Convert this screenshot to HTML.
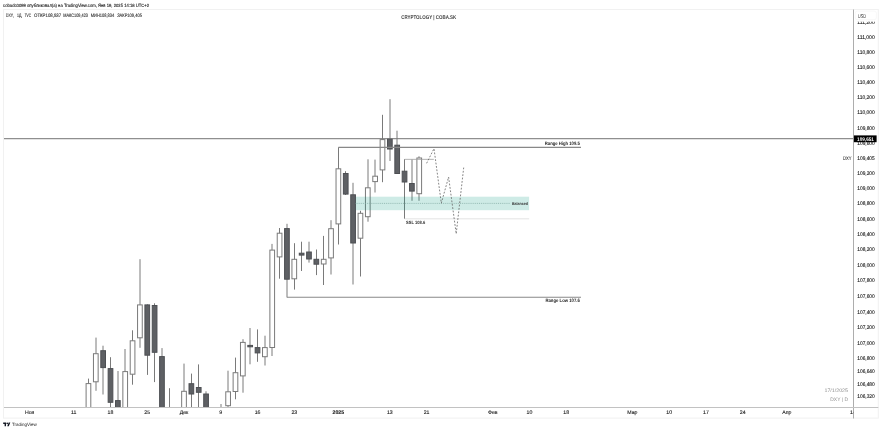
<!DOCTYPE html>
<html><head><meta charset="utf-8">
<style>
html,body{margin:0;padding:0;background:#fff;}
body{width:882px;height:431px;overflow:hidden;}
svg{display:block;text-rendering:geometricPrecision;font-family:"Liberation Sans",sans-serif;}
.pl{font-size:5.3px;fill:#1a1a1a;stroke:#1a1a1a;stroke-width:0.12px;}
.tl{font-size:5.2px;fill:#1a1a1a;stroke:#1a1a1a;stroke-width:0.12px;text-anchor:middle;}
.b{font-weight:bold;}
.hd1{fill:#222;stroke:#222;stroke-width:0.12px;}
.hd2{font-size:4.9px;fill:#333;stroke:#333;stroke-width:0.12px;}
text{filter:url(#gs);}
</style></head><body>
<svg width="882" height="431" viewBox="0 0 882 431">
<rect x="0" y="0" width="882" height="431" fill="#fff"/>
<!-- header -->
<text x="3.1" y="6.9" font-size="4.6" class="hd1" textLength="146" lengthAdjust="spacingAndGlyphs">cobadc0099 опубликовал(а) на TradingView.com, Янв 19, 2025 14:18 UTC+2</text>
<!-- outer frame -->
<rect x="3.5" y="9.5" width="874.8" height="408.6" fill="none" stroke="#f1f1f1" stroke-width="1"/>
<text x="6.1" y="16.6" class="hd2" textLength="7.5" lengthAdjust="spacingAndGlyphs">DXY,</text><text x="17" y="16.6" class="hd2" textLength="5.3" lengthAdjust="spacingAndGlyphs">1Д,</text><text x="24.7" y="16.6" class="hd2" textLength="6.3" lengthAdjust="spacingAndGlyphs">TVC</text><text x="34" y="16.6" class="hd2" textLength="27.2" lengthAdjust="spacingAndGlyphs">ОТКР108,937</text><text x="63.3" y="16.6" class="hd2" textLength="24.6" lengthAdjust="spacingAndGlyphs">МАКС109,423</text><text x="90.8" y="16.6" class="hd2" textLength="23.4" lengthAdjust="spacingAndGlyphs">МИН108,834</text><text x="117.2" y="16.6" class="hd2" textLength="24.7" lengthAdjust="spacingAndGlyphs">ЗАКР109,405</text>
<text x="401.3" y="19.0" font-size="5.4" font-weight="bold" fill="#444" textLength="55" lengthAdjust="spacingAndGlyphs">CRYPTOLOGY | COBA.SK</text>
<defs><filter id="gs" x="-0.2" y="-0.5" width="1.4" height="2"><feColorMatrix type="saturate" values="0"/></filter><clipPath id="cp"><rect x="4" y="10" width="849" height="397"/></clipPath>
<clipPath id="cpa"><rect x="854" y="21" width="24" height="386"/></clipPath></defs>
<g clip-path="url(#cp)">
<!-- 109.651 line -->
<line x1="4" y1="138.7" x2="853" y2="138.7" stroke="#8f8f8f" stroke-width="1.2"/>
<!-- green box -->
<line x1="88.50" y1="378.6" x2="88.50" y2="430" stroke="#7a7a7a" stroke-width="1"/>
<rect x="86.10" y="383.60" width="4.70" height="45.90" fill="#fff" stroke="#7a7a7a" stroke-width="1"/>
<line x1="96.00" y1="337.6" x2="96.00" y2="390.8" stroke="#7a7a7a" stroke-width="1"/>
<rect x="93.45" y="353.70" width="4.70" height="28.10" fill="#fff" stroke="#7a7a7a" stroke-width="1"/>
<line x1="103.00" y1="345.7" x2="103.00" y2="394.5" stroke="#7a7a7a" stroke-width="1"/>
<rect x="100.80" y="350.70" width="4.70" height="16.90" fill="#5e6064" stroke="#4d4f53" stroke-width="1"/>
<line x1="110.50" y1="357.2" x2="110.50" y2="430" stroke="#7a7a7a" stroke-width="1"/>
<rect x="108.15" y="368.60" width="4.70" height="33.70" fill="#5e6064" stroke="#4d4f53" stroke-width="1"/>
<line x1="118.00" y1="371" x2="118.00" y2="430" stroke="#7a7a7a" stroke-width="1"/>
<rect x="115.50" y="400.60" width="4.70" height="28.90" fill="#5e6064" stroke="#4d4f53" stroke-width="1"/>
<line x1="125.00" y1="349" x2="125.00" y2="430" stroke="#7a7a7a" stroke-width="1"/>
<rect x="122.86" y="371.60" width="4.70" height="57.90" fill="#fff" stroke="#7a7a7a" stroke-width="1"/>
<line x1="132.50" y1="330.3" x2="132.50" y2="384.7" stroke="#7a7a7a" stroke-width="1"/>
<rect x="130.21" y="340.80" width="4.70" height="33.40" fill="#fff" stroke="#7a7a7a" stroke-width="1"/>
<line x1="140.00" y1="259.2" x2="140.00" y2="347.8" stroke="#7a7a7a" stroke-width="1"/>
<rect x="137.56" y="304.90" width="4.70" height="32.90" fill="#fff" stroke="#7a7a7a" stroke-width="1"/>
<line x1="147.50" y1="304.4" x2="147.50" y2="374.9" stroke="#7a7a7a" stroke-width="1"/>
<rect x="144.91" y="304.90" width="4.70" height="50.30" fill="#5e6064" stroke="#4d4f53" stroke-width="1"/>
<line x1="154.50" y1="303.3" x2="154.50" y2="382.1" stroke="#7a7a7a" stroke-width="1"/>
<rect x="152.26" y="305.50" width="4.70" height="46.80" fill="#5e6064" stroke="#4d4f53" stroke-width="1"/>
<line x1="162.00" y1="348.1" x2="162.00" y2="430" stroke="#7a7a7a" stroke-width="1"/>
<rect x="159.61" y="356.60" width="4.70" height="72.90" fill="#5e6064" stroke="#4d4f53" stroke-width="1"/>
<line x1="169.50" y1="388.2" x2="169.50" y2="430" stroke="#7a7a7a" stroke-width="1"/>
<line x1="184.00" y1="363.6" x2="184.00" y2="430" stroke="#7a7a7a" stroke-width="1"/>
<rect x="181.66" y="391.30" width="4.70" height="38.20" fill="#fff" stroke="#7a7a7a" stroke-width="1"/>
<line x1="191.50" y1="373.6" x2="191.50" y2="430" stroke="#7a7a7a" stroke-width="1"/>
<rect x="189.01" y="383.70" width="4.70" height="10.30" fill="#5e6064" stroke="#4d4f53" stroke-width="1"/>
<line x1="198.50" y1="364.4" x2="198.50" y2="430" stroke="#7a7a7a" stroke-width="1"/>
<rect x="196.37" y="387.50" width="4.70" height="4.80" fill="#5e6064" stroke="#4d4f53" stroke-width="1"/>
<line x1="206.00" y1="391.3" x2="206.00" y2="430" stroke="#7a7a7a" stroke-width="1"/>
<rect x="203.72" y="394.00" width="4.70" height="35.50" fill="#5e6064" stroke="#4d4f53" stroke-width="1"/>
<line x1="221.00" y1="404" x2="221.00" y2="430" stroke="#7a7a7a" stroke-width="1"/>
<line x1="228.00" y1="370.7" x2="228.00" y2="430" stroke="#7a7a7a" stroke-width="1"/>
<rect x="225.77" y="391.80" width="4.70" height="13.90" fill="#fff" stroke="#7a7a7a" stroke-width="1"/>
<line x1="235.50" y1="357.6" x2="235.50" y2="399.3" stroke="#7a7a7a" stroke-width="1"/>
<rect x="233.12" y="372.70" width="4.70" height="18.80" fill="#fff" stroke="#7a7a7a" stroke-width="1"/>
<line x1="243.00" y1="339.2" x2="243.00" y2="392.7" stroke="#7a7a7a" stroke-width="1"/>
<rect x="240.47" y="342.40" width="4.70" height="33.50" fill="#fff" stroke="#7a7a7a" stroke-width="1"/>
<line x1="250.00" y1="328" x2="250.00" y2="364.3" stroke="#7a7a7a" stroke-width="1"/>
<rect x="247.82" y="345.40" width="4.70" height="1.40" fill="#5e6064" stroke="#4d4f53" stroke-width="1"/>
<line x1="257.50" y1="329.4" x2="257.50" y2="361.8" stroke="#7a7a7a" stroke-width="1"/>
<rect x="255.17" y="347.60" width="4.70" height="5.30" fill="#5e6064" stroke="#4d4f53" stroke-width="1"/>
<line x1="265.00" y1="335.7" x2="265.00" y2="365.5" stroke="#7a7a7a" stroke-width="1"/>
<rect x="262.52" y="347.60" width="4.70" height="9.10" fill="#fff" stroke="#7a7a7a" stroke-width="1"/>
<line x1="272.00" y1="243.9" x2="272.00" y2="356" stroke="#7a7a7a" stroke-width="1"/>
<rect x="269.88" y="250.10" width="4.70" height="97.40" fill="#fff" stroke="#7a7a7a" stroke-width="1"/>
<line x1="279.50" y1="228" x2="279.50" y2="278.7" stroke="#7a7a7a" stroke-width="1"/>
<rect x="277.23" y="233.20" width="4.70" height="23.70" fill="#fff" stroke="#7a7a7a" stroke-width="1"/>
<line x1="287.00" y1="223.8" x2="287.00" y2="297.4" stroke="#7a7a7a" stroke-width="1"/>
<rect x="284.58" y="228.60" width="4.70" height="50.60" fill="#5e6064" stroke="#4d4f53" stroke-width="1"/>
<line x1="294.50" y1="243.2" x2="294.50" y2="289.6" stroke="#7a7a7a" stroke-width="1"/>
<rect x="291.93" y="259.30" width="4.70" height="19.50" fill="#fff" stroke="#7a7a7a" stroke-width="1"/>
<line x1="301.50" y1="241.7" x2="301.50" y2="271" stroke="#7a7a7a" stroke-width="1"/>
<rect x="299.28" y="253.20" width="4.70" height="1.90" fill="#5e6064" stroke="#4d4f53" stroke-width="1"/>
<line x1="309.00" y1="241.7" x2="309.00" y2="262.6" stroke="#7a7a7a" stroke-width="1"/>
<rect x="306.63" y="252.00" width="4.70" height="7.00" fill="#5e6064" stroke="#4d4f53" stroke-width="1"/>
<line x1="316.50" y1="249.5" x2="316.50" y2="275.1" stroke="#7a7a7a" stroke-width="1"/>
<rect x="313.98" y="259.30" width="4.70" height="4.90" fill="#5e6064" stroke="#4d4f53" stroke-width="1"/>
<line x1="323.50" y1="235.9" x2="323.50" y2="285" stroke="#7a7a7a" stroke-width="1"/>
<rect x="321.33" y="259.30" width="4.70" height="4.70" fill="#fff" stroke="#7a7a7a" stroke-width="1"/>
<line x1="331.00" y1="220.2" x2="331.00" y2="274.5" stroke="#7a7a7a" stroke-width="1"/>
<rect x="328.68" y="228.70" width="4.70" height="29.20" fill="#fff" stroke="#7a7a7a" stroke-width="1"/>
<line x1="338.50" y1="147.3" x2="338.50" y2="244.5" stroke="#7a7a7a" stroke-width="1"/>
<rect x="336.03" y="168.80" width="4.70" height="55.10" fill="#fff" stroke="#7a7a7a" stroke-width="1"/>
<line x1="345.50" y1="171.2" x2="345.50" y2="195" stroke="#7a7a7a" stroke-width="1"/>
<rect x="343.38" y="173.50" width="4.70" height="20.60" fill="#5e6064" stroke="#4d4f53" stroke-width="1"/>
<line x1="353.00" y1="182.8" x2="353.00" y2="284.5" stroke="#7a7a7a" stroke-width="1"/>
<rect x="350.74" y="194.80" width="4.70" height="48.20" fill="#5e6064" stroke="#4d4f53" stroke-width="1"/>
<line x1="360.50" y1="210.8" x2="360.50" y2="276.5" stroke="#7a7a7a" stroke-width="1"/>
<rect x="358.09" y="213.30" width="4.70" height="24.90" fill="#fff" stroke="#7a7a7a" stroke-width="1"/>
<line x1="368.00" y1="159.3" x2="368.00" y2="221.7" stroke="#7a7a7a" stroke-width="1"/>
<rect x="365.44" y="187.80" width="4.70" height="28.90" fill="#fff" stroke="#7a7a7a" stroke-width="1"/>
<line x1="375.00" y1="159.6" x2="375.00" y2="192.5" stroke="#7a7a7a" stroke-width="1"/>
<rect x="372.79" y="176.20" width="4.70" height="5.40" fill="#fff" stroke="#7a7a7a" stroke-width="1"/>
<line x1="382.50" y1="114.8" x2="382.50" y2="182.2" stroke="#7a7a7a" stroke-width="1"/>
<rect x="380.14" y="139.60" width="4.70" height="30.30" fill="#fff" stroke="#7a7a7a" stroke-width="1"/>
<line x1="390.00" y1="99.2" x2="390.00" y2="161" stroke="#7a7a7a" stroke-width="1"/>
<rect x="387.49" y="139.20" width="4.70" height="9.80" fill="#5e6064" stroke="#4d4f53" stroke-width="1"/>
<line x1="397.00" y1="130.7" x2="397.00" y2="174" stroke="#7a7a7a" stroke-width="1"/>
<rect x="394.84" y="145.20" width="4.70" height="28.30" fill="#5e6064" stroke="#4d4f53" stroke-width="1"/>
<line x1="404.50" y1="159.2" x2="404.50" y2="218.8" stroke="#7a7a7a" stroke-width="1"/>
<rect x="402.19" y="171.20" width="4.70" height="10.80" fill="#5e6064" stroke="#4d4f53" stroke-width="1"/>
<line x1="412.00" y1="159.4" x2="412.00" y2="200.8" stroke="#7a7a7a" stroke-width="1"/>
<rect x="409.54" y="183.50" width="4.70" height="7.60" fill="#5e6064" stroke="#4d4f53" stroke-width="1"/>
<line x1="419.00" y1="156.3" x2="419.00" y2="200.8" stroke="#7a7a7a" stroke-width="1"/>
<rect x="416.89" y="158.00" width="4.70" height="35.70" fill="#fff" stroke="#7a7a7a" stroke-width="1"/>
<rect x="355.8" y="196.7" width="173.3" height="13.5" fill="rgb(8,153,129)" fill-opacity="0.2"/>
<line x1="355.5" y1="203.4" x2="510.0" y2="203.4" stroke="#7fa8a0" stroke-width="0.7" stroke-dasharray="1 0.9"/>
<text x="512" y="204.8" font-size="4.2" font-weight="bold" fill="#2a3331" textLength="15.9" lengthAdjust="spacingAndGlyphs">Balanced</text>
<!-- Range high -->
<polyline points="338.4,147.4 581,147.4" fill="none" stroke="#888" stroke-width="1.1"/>
<text x="544.8" y="145.3" font-size="4.9" font-weight="bold" fill="#222" textLength="35" lengthAdjust="spacingAndGlyphs">Range High 109.5</text>
<!-- Range low -->
<polyline points="286.9,297.3 581,297.3" fill="none" stroke="#888" stroke-width="1.1"/>
<text x="545.4" y="301.8" font-size="4.9" font-weight="bold" fill="#222" textLength="34.5" lengthAdjust="spacingAndGlyphs">Range Low 107.6</text>
<!-- liquidity line -->
<line x1="404.6" y1="159.35" x2="433.8" y2="159.35" stroke="#a0a0a0" stroke-width="0.8"/>
<!-- SSL -->
<line x1="404.6" y1="218.8" x2="529.2" y2="218.8" stroke="#dcdcdc" stroke-width="0.8"/>
<text x="406" y="224" font-size="4.6" font-weight="bold" fill="#333" textLength="19.2" lengthAdjust="spacingAndGlyphs">SSL 108.6</text>
<!-- zigzag -->
<polyline points="426.6,163.3 434.0,148.6 441.3,203.2 448.6,177.0 456.2,233.8 463.7,167.6" fill="none" stroke="#666" stroke-width="0.8" stroke-dasharray="1.8 1.6"/>
<!-- watermark -->
<text x="824.5" y="392.2" font-size="5" fill="#8c8c8c" textLength="23.5" lengthAdjust="spacingAndGlyphs">17/1/2025</text>
<text x="830.3" y="400.8" font-size="5" fill="#8c8c8c" textLength="17.7" lengthAdjust="spacingAndGlyphs">DXY | D</text>
<text x="843" y="159.7" font-size="5.2" fill="#444" stroke="#444" stroke-width="0.1" textLength="8.6" lengthAdjust="spacingAndGlyphs">DXY</text>
</g>
<!-- axes -->
<line x1="853.5" y1="9.5" x2="853.5" y2="418.5" stroke="#adadad" stroke-width="1"/>
<line x1="4" y1="407.5" x2="878.3" y2="407.5" stroke="#c2c2c2" stroke-width="1"/>
<g clip-path="url(#cpa)">
<text x="857.3" y="38.55" class="pl" textLength="17.4" lengthAdjust="spacingAndGlyphs">111,000</text>
<text x="857.3" y="54.00" class="pl" textLength="17.4" lengthAdjust="spacingAndGlyphs">110,800</text>
<text x="857.3" y="69.10" class="pl" textLength="17.4" lengthAdjust="spacingAndGlyphs">110,600</text>
<text x="857.3" y="84.00" class="pl" textLength="17.4" lengthAdjust="spacingAndGlyphs">110,400</text>
<text x="857.3" y="99.10" class="pl" textLength="17.4" lengthAdjust="spacingAndGlyphs">110,200</text>
<text x="857.3" y="114.30" class="pl" textLength="17.4" lengthAdjust="spacingAndGlyphs">110,000</text>
<text x="857.3" y="129.50" class="pl" textLength="17.4" lengthAdjust="spacingAndGlyphs">109,800</text>
<text x="857.3" y="175.00" class="pl" textLength="17.4" lengthAdjust="spacingAndGlyphs">109,200</text>
<text x="857.3" y="190.20" class="pl" textLength="17.4" lengthAdjust="spacingAndGlyphs">109,000</text>
<text x="857.3" y="205.30" class="pl" textLength="17.4" lengthAdjust="spacingAndGlyphs">108,800</text>
<text x="857.3" y="220.80" class="pl" textLength="17.4" lengthAdjust="spacingAndGlyphs">108,600</text>
<text x="857.3" y="236.40" class="pl" textLength="17.4" lengthAdjust="spacingAndGlyphs">108,400</text>
<text x="857.3" y="251.40" class="pl" textLength="17.4" lengthAdjust="spacingAndGlyphs">108,200</text>
<text x="857.3" y="266.60" class="pl" textLength="17.4" lengthAdjust="spacingAndGlyphs">108,000</text>
<text x="857.3" y="282.20" class="pl" textLength="17.4" lengthAdjust="spacingAndGlyphs">107,800</text>
<text x="857.3" y="297.60" class="pl" textLength="17.4" lengthAdjust="spacingAndGlyphs">107,600</text>
<text x="857.3" y="313.50" class="pl" textLength="17.4" lengthAdjust="spacingAndGlyphs">107,400</text>
<text x="857.3" y="329.10" class="pl" textLength="17.4" lengthAdjust="spacingAndGlyphs">107,200</text>
<text x="857.3" y="344.50" class="pl" textLength="17.4" lengthAdjust="spacingAndGlyphs">107,000</text>
<text x="857.3" y="359.70" class="pl" textLength="17.4" lengthAdjust="spacingAndGlyphs">106,800</text>
<text x="857.3" y="372.90" class="pl" textLength="17.4" lengthAdjust="spacingAndGlyphs">106,640</text>
<text x="857.3" y="385.50" class="pl" textLength="17.4" lengthAdjust="spacingAndGlyphs">106,480</text>
<text x="857.3" y="397.70" class="pl" textLength="17.4" lengthAdjust="spacingAndGlyphs">106,320</text>
<text x="857.3" y="159.80" class="pl" textLength="17.4" lengthAdjust="spacingAndGlyphs">109,405</text>
</g>
<text x="857.3" y="23.6" class="pl" textLength="17.4" lengthAdjust="spacingAndGlyphs">111,200</text>
<rect x="855" y="10.5" width="22" height="11.2" fill="#fff"/>
<rect x="855.3" y="11.1" width="21.1" height="8.6" rx="2" fill="#fff" stroke="#f3f3f3" stroke-width="0.6"/>
<text x="858" y="18" font-size="5.6" fill="#333" textLength="7.9" lengthAdjust="spacingAndGlyphs">USD</text>
<!-- 109.651 label -->
<text x="857.3" y="144.6" class="pl" textLength="17.4" lengthAdjust="spacingAndGlyphs">109,600</text>
<rect x="853.9" y="135.4" width="22.7" height="6.8" fill="#000"/>
<text x="857.1" y="140.7" font-size="5.2" fill="#fff" font-weight="bold" textLength="16.8" lengthAdjust="spacingAndGlyphs">109,651</text>
<g>
<clipPath id="cpt"><rect x="4" y="408" width="849.3" height="10"/></clipPath>
<g clip-path="url(#cpt)">
<text x="29.64" y="414.4" class="tl">Ноя</text>
<text x="73.75" y="414.4" class="tl">11</text>
<text x="110.50" y="414.4" class="tl">18</text>
<text x="147.26" y="414.4" class="tl">25</text>
<text x="184.01" y="414.4" class="tl">Дек</text>
<text x="220.77" y="414.4" class="tl">9</text>
<text x="257.52" y="414.4" class="tl">16</text>
<text x="294.28" y="414.4" class="tl">23</text>
<text x="338.38" y="414.4" class="tl b">2025</text>
<text x="389.84" y="414.4" class="tl">13</text>
<text x="426.60" y="414.4" class="tl">21</text>
<text x="492.75" y="414.4" class="tl">Фев</text>
<text x="529.51" y="414.4" class="tl">10</text>
<text x="566.26" y="414.4" class="tl">18</text>
<text x="632.42" y="414.4" class="tl">Мар</text>
<text x="669.18" y="414.4" class="tl">10</text>
<text x="705.93" y="414.4" class="tl">17</text>
<text x="742.69" y="414.4" class="tl">24</text>
<text x="786.80" y="414.4" class="tl">Апр</text>
<text x="852.95" y="414.4" class="tl">14</text>
</g></g>
<!-- TV logo -->
<g transform="translate(3.2,421.8) scale(0.2)"><path d="M14 22H7V11H0V4h14v18zM28 22h-8l7.5-18h8L28 22z" fill="#131722"/><circle cx="20" cy="8" r="4" fill="#131722"/></g>
<text x="12" y="426.3" font-size="4.6" fill="#222" textLength="24.7" lengthAdjust="spacingAndGlyphs">TradingView</text>
</svg>
</body></html>
